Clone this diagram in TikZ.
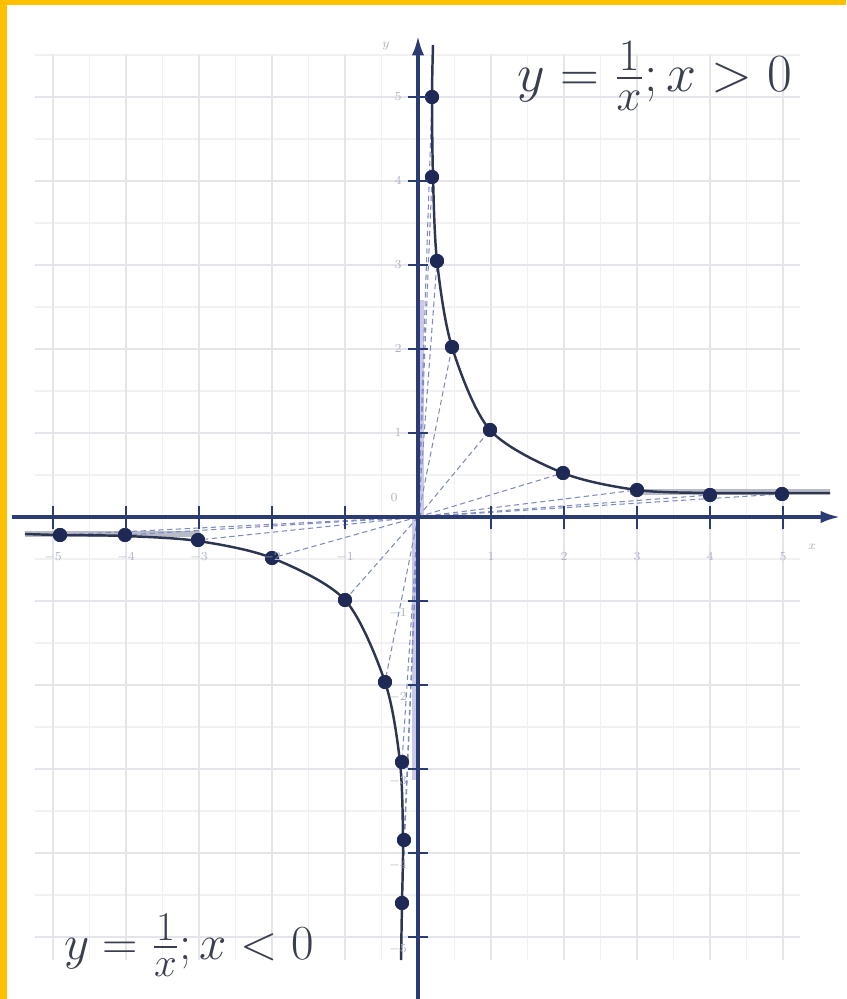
\documentclass[tikz,border=0pt]{standalone}
\usepackage{amsmath}
\usepackage{graphicx}
\usetikzlibrary{arrows.meta}
\definecolor{framec}{HTML}{FFC000}
\definecolor{axisc}{HTML}{2B3B73}
\definecolor{dotc}{HTML}{1E2A55}
\definecolor{curvec}{HTML}{2E3550}
\definecolor{dashc}{HTML}{7F8AC0}
\definecolor{bandc}{HTML}{B4B4DE}
\definecolor{gridmaj}{HTML}{E4E4EA}
\definecolor{gridmin}{HTML}{F1F1F4}
\definecolor{asymc}{HTML}{B8BCC8}
\definecolor{tlabc}{HTML}{AEB3C6}
\definecolor{eqc}{HTML}{3A3F4F}
\tikzset{
  pt/.style={circle, fill=dotc, inner sep=0pt, minimum size=8pt},
  conn/.style={dashc, densely dashed, line width=0.6pt},
  curveline/.style={curvec, line width=1.4pt},
  axisline/.style={axisc, line width=1.8pt, -{Latex[length=11pt,width=7pt]}},
  tick/.style={axisc, line width=1.2pt},
  ticklab/.style={tlabc, font=\scriptsize},
  eq/.style={eqc, font=\fontsize{24.88}{30}\selectfont, inner sep=0pt}
}
\begin{document}
\begin{tikzpicture}[x=0.02cm,y=-0.02cm]
\useasboundingbox (0,0) rectangle (846,999);
\fill[white] (0,0) rectangle (846,999);
\fill[framec] (0,0) rectangle (846,5);
\fill[framec] (0,0) rectangle (7,999);
% grid
\foreach \k in {-10,...,10} {
  \draw[gridmin, line width=0.6pt] ({418+36.5*\k},55) -- ({418+36.5*\k},960);
}
\foreach \k in {-11,...,10} {
  \draw[gridmin, line width=0.6pt] (35,{517+42*\k}) -- (800,{517+42*\k});
}
\foreach \k in {-5,...,5} {
  \draw[gridmaj, line width=0.7pt] ({418+73*\k},55) -- ({418+73*\k},960);
}
\foreach \k in {-5,...,5} {
  \draw[gridmaj, line width=0.7pt] (35,{517+84*\k}) -- (800,{517+84*\k});
}
% asymptote-like grey bands
\draw[asymc, line width=3pt] (630,492) -- (830,492);
\draw[asymc, line width=3pt] (25,534) -- (200,534);
\fill[bandc, opacity=0.7] (419,300) rectangle (424,515);
\fill[bandc, opacity=0.7] (412,519) rectangle (417,780);
% origin
\coordinate (O) at (418,517);
% points
\node[pt] (p1) at (432,97) {};
\node[pt] (p2) at (432,177) {};
\node[pt] (p3) at (437,261) {};
\node[pt] (p4) at (452,347) {};
\node[pt] (p5) at (490,430) {};
\node[pt] (p6) at (563,473) {};
\node[pt] (p7) at (637,490) {};
\node[pt] (p8) at (710,495) {};
\node[pt] (p9) at (782,494) {};
\node[pt] (n1) at (60,535) {};
\node[pt] (n2) at (125,535) {};
\node[pt] (n3) at (198,540) {};
\node[pt] (n4) at (272,558) {};
\node[pt] (n5) at (345,600) {};
\node[pt] (n6) at (385,682) {};
\node[pt] (n7) at (402,762) {};
\node[pt] (n8) at (404,840) {};
\node[pt] (n9) at (402,903) {};
% dashed connectors from origin
\foreach \p in {p1,p2,p3,p4,p5,p6,p7,p8,p9,n1,n2,n3,n4,n5,n6,n7,n8,n9} {
  \draw[conn] (O) -- (\p);
}
% curves
\draw[curveline] plot[smooth, tension=0.5] coordinates {(433,45) (432,97) (433,177) (437,261) (452,347) (490,430) (563,473) (637,490) (710,493) (782,493) (830,493)};
\draw[curveline] plot[smooth, tension=0.5] coordinates {(25,534) (60,535) (125,536) (198,541) (272,558) (345,600) (385,682) (400,762) (403,840) (402,903) (401,960)};
% redraw points on top
\foreach \p in {p1,p2,p3,p4,p5,p6,p7,p8,p9,n1,n2,n3,n4,n5,n6,n7,n8,n9} {
  \fill[dotc] (\p) circle (4pt);
}
% axes
\draw[axisline] (12,517) -- (840,517);
\draw[axisline] (418,999) -- (418,36);
% ticks
\foreach \k in {-5,...,-1,1,2,...,5} {
  \draw[tick] ({418+73*\k},506) -- ({418+73*\k},529);
  \draw[tick] (408,{517-84*\k}) -- (428,{517-84*\k});
}
% tick labels
\foreach \k in {-5,...,-1} {
  \node[ticklab] (xl\k) at ({418+73*\k},557) {$\k$};
}
\foreach \k in {1,...,5} {
  \node[ticklab] (xlp\k) at ({418+73*\k},557) {$\k$};
  \node[ticklab] (ylp\k) at (398,{517-84*\k}) {$\k$};
}
\foreach \k in {-5,...,-1} {
  \node[ticklab] (yl\k) at (398,{517-84*\k+12}) {$\k$};
}
\node[ticklab] (x0) at (394,498) {$0$};
\node[ticklab] (xname) at (812,547) {$x$};
\node[ticklab] (yname) at (386,46) {$y$};
% equations
\node[eq] (eqpos) at (655,76) {\scalebox{1.23}{$y=\frac{1}{x};x>0$}};
\node[eq] (eqneg) at (189,945) {\scalebox{1.12}{$y=\frac{1}{x};x<0$}};
\end{tikzpicture}
\end{document}
